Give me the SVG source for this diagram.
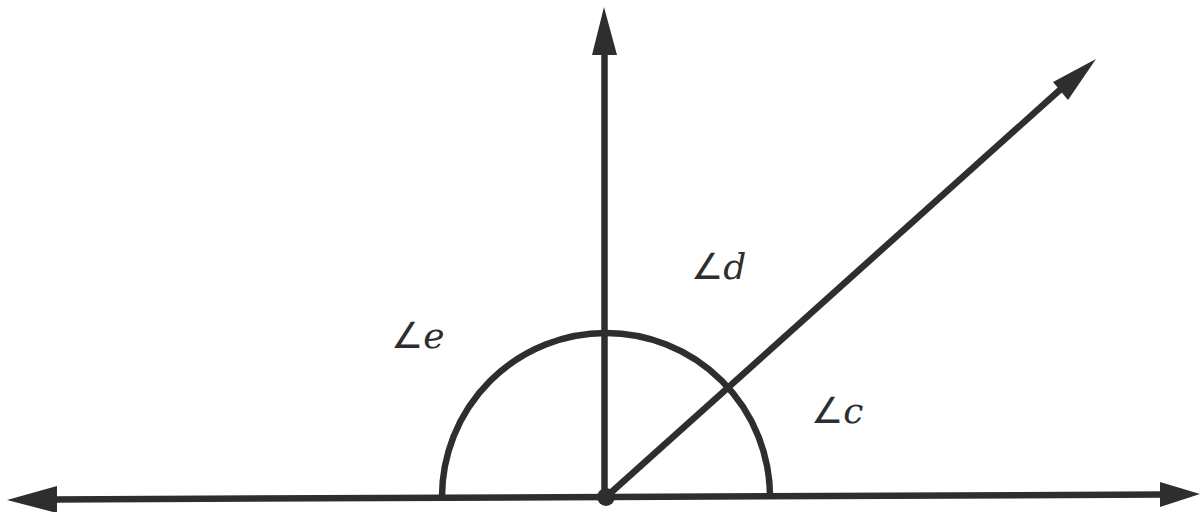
<svg xmlns="http://www.w3.org/2000/svg" width="1202" height="512" viewBox="0 0 1202 512">
<style>
.ln{stroke:#2e2e2e;stroke-width:6.5;fill:none;stroke-linecap:butt}
.ah{fill:#2e2e2e}
.lbl{font-family:"DejaVu Serif","Liberation Serif",serif;font-size:36px;fill:#2e2e2e}
.ang{font-family:"DejaVu Sans",sans-serif;font-style:normal}
.var{font-style:italic}
</style>
<rect width="1202" height="512" fill="#ffffff"/>
<g id="connectors">
<line class="ln" x1="50" y1="499.5" x2="1165" y2="494.5"/>
<line class="ln" x1="604.5" y1="497" x2="604.5" y2="50"/>
<line class="ln" x1="606" y1="497" x2="1062" y2="88"/>
<path class="ln" d="M442,497 A164,164 0 0 1 770,497"/>
<polygon class="ah" points="7,500 57,486 57,513"/>
<polygon class="ah" points="1200,494 1160,482 1160,507"/>
<polygon class="ah" points="604,7 617,55 592,55"/>
<polygon class="ah" points="1096,59 1068,100 1053,82"/>
</g>
<g id="center"><circle cx="606" cy="497" r="9" fill="#2e2e2e"/></g>
<g id="label-d"><text class="lbl" x="691" y="279"><tspan class="ang">∠</tspan><tspan class="var">d</tspan></text></g>
<g id="label-e"><text class="lbl" x="391" y="348"><tspan class="ang">∠</tspan><tspan class="var">e</tspan></text></g>
<g id="label-c"><text class="lbl" x="811" y="423"><tspan class="ang">∠</tspan><tspan class="var">c</tspan></text></g>
</svg>
